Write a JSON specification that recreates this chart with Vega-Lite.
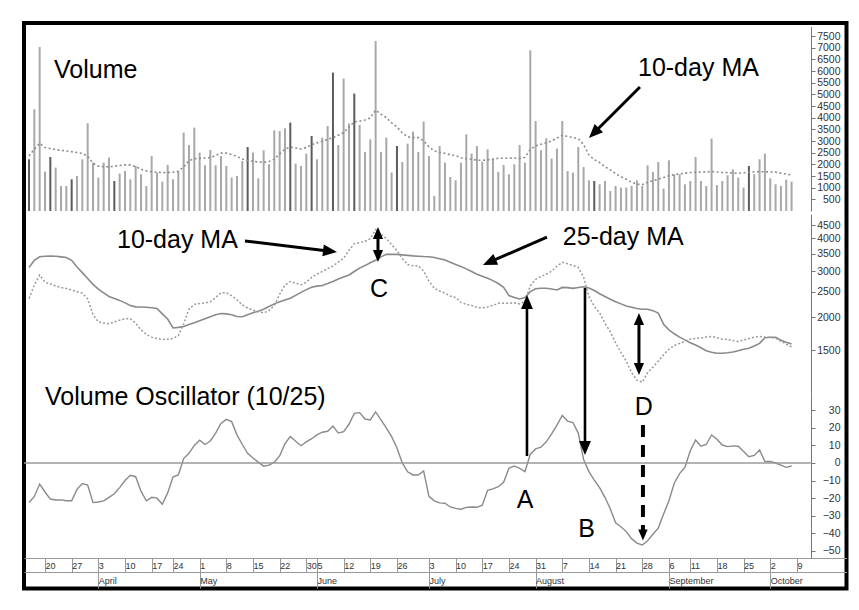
{
"$schema":"https://vega.github.io/schema/vega-lite/v6.json",
"width":822.5,"height":565.5,
"autosize":{"type":"none"},
"padding":{"left":24,"top":23,"right":12.5,"bottom":21.5},
"background":"white",
"config":{"view":{"stroke":"#000","strokeWidth":4},"font":"Liberation Sans"},
"datasets":{
"bars":[
{"k":0,"vol":2216,"ma10":2360,"ma25":3100,"osc":-22.5,"day":"down"},
{"k":1,"vol":4359,"ma10":2650,"ma25":3300,"osc":-19,"day":"up"},
{"k":2,"vol":7029,"ma10":2900,"ma25":3405,"osc":-12,"day":"up"},
{"k":3,"vol":1688,"ma10":2720,"ma25":3420,"osc":-16.5,"day":"up"},
{"k":4,"vol":2314,"ma10":2680,"ma25":3426,"osc":-20.5,"day":"down"},
{"k":5,"vol":1860,"ma10":2630,"ma25":3420,"osc":-21,"day":"up"},
{"k":6,"vol":1072,"ma10":2600,"ma25":3400,"osc":-21,"day":"up"},
{"k":7,"vol":1072,"ma10":2575,"ma25":3380,"osc":-21.5,"day":"up"},
{"k":8,"vol":1359,"ma10":2540,"ma25":3300,"osc":-21.5,"day":"down"},
{"k":9,"vol":1500,"ma10":2505,"ma25":3110,"osc":-15,"day":"up"},
{"k":10,"vol":2216,"ma10":2470,"ma25":2960,"osc":-11.7,"day":"up"},
{"k":11,"vol":3759,"ma10":2350,"ma25":2810,"osc":-12.5,"day":"up"},
{"k":12,"vol":2074,"ma10":2050,"ma25":2670,"osc":-22.5,"day":"up"},
{"k":13,"vol":1431,"ma10":1920,"ma25":2560,"osc":-22.2,"day":"up"},
{"k":14,"vol":2074,"ma10":1900,"ma25":2480,"osc":-21.5,"day":"up"},
{"k":15,"vol":2289,"ma10":1890,"ma25":2400,"osc":-19.5,"day":"up"},
{"k":16,"vol":1286,"ma10":1920,"ma25":2360,"osc":-17.5,"day":"down"},
{"k":17,"vol":1603,"ma10":1950,"ma25":2320,"osc":-14,"day":"up"},
{"k":18,"vol":1714,"ma10":1975,"ma25":2270,"osc":-10,"day":"up"},
{"k":19,"vol":1359,"ma10":1975,"ma25":2220,"osc":-7,"day":"up"},
{"k":20,"vol":1929,"ma10":1900,"ma25":2192,"osc":-7.8,"day":"up"},
{"k":21,"vol":1573,"ma10":1790,"ma25":2188,"osc":-16,"day":"up"},
{"k":22,"vol":1072,"ma10":1720,"ma25":2183,"osc":-21.5,"day":"up"},
{"k":23,"vol":2357,"ma10":1680,"ma25":2175,"osc":-19.5,"day":"up"},
{"k":24,"vol":1646,"ma10":1660,"ma25":2160,"osc":-20,"day":"up"},
{"k":25,"vol":1260,"ma10":1645,"ma25":2060,"osc":-23.5,"day":"up"},
{"k":26,"vol":1972,"ma10":1650,"ma25":1970,"osc":-17,"day":"up"},
{"k":27,"vol":1359,"ma10":1660,"ma25":1820,"osc":-8,"day":"up"},
{"k":28,"vol":1714,"ma10":1700,"ma25":1830,"osc":-6.8,"day":"up"},
{"k":29,"vol":3360,"ma10":1890,"ma25":1845,"osc":2.5,"day":"up"},
{"k":30,"vol":2829,"ma10":2150,"ma25":1875,"osc":5.5,"day":"up"},
{"k":31,"vol":3574,"ma10":2240,"ma25":1905,"osc":10,"day":"up"},
{"k":32,"vol":2503,"ma10":2255,"ma25":1940,"osc":13,"day":"up"},
{"k":33,"vol":1959,"ma10":2270,"ma25":1975,"osc":10.5,"day":"up"},
{"k":34,"vol":2614,"ma10":2290,"ma25":2010,"osc":12.5,"day":"up"},
{"k":35,"vol":1959,"ma10":2380,"ma25":2045,"osc":17,"day":"up"},
{"k":36,"vol":2357,"ma10":2480,"ma25":2068,"osc":22.5,"day":"up"},
{"k":37,"vol":1929,"ma10":2480,"ma25":2060,"osc":24.8,"day":"up"},
{"k":38,"vol":1431,"ma10":2420,"ma25":2045,"osc":23.5,"day":"up"},
{"k":39,"vol":1500,"ma10":2330,"ma25":2015,"osc":16,"day":"up"},
{"k":40,"vol":2143,"ma10":2230,"ma25":2010,"osc":10.5,"day":"up"},
{"k":41,"vol":2743,"ma10":2170,"ma25":2045,"osc":5.5,"day":"down"},
{"k":42,"vol":2503,"ma10":2130,"ma25":2080,"osc":2.8,"day":"up"},
{"k":43,"vol":1401,"ma10":2100,"ma25":2110,"osc":0.5,"day":"up"},
{"k":44,"vol":2601,"ma10":2080,"ma25":2145,"osc":-1.8,"day":"up"},
{"k":45,"vol":2001,"ma10":2120,"ma25":2200,"osc":-1.2,"day":"up"},
{"k":46,"vol":3459,"ma10":2220,"ma25":2250,"osc":0.5,"day":"up"},
{"k":47,"vol":3429,"ma10":2450,"ma25":2290,"osc":4,"day":"up"},
{"k":48,"vol":3544,"ma10":2650,"ma25":2330,"osc":11,"day":"up"},
{"k":49,"vol":3789,"ma10":2740,"ma25":2365,"osc":15,"day":"down"},
{"k":50,"vol":2031,"ma10":2700,"ma25":2425,"osc":12.3,"day":"up"},
{"k":51,"vol":1929,"ma10":2660,"ma25":2490,"osc":9.8,"day":"up"},
{"k":52,"vol":2460,"ma10":2720,"ma25":2550,"osc":12,"day":"up"},
{"k":53,"vol":3215,"ma10":2840,"ma25":2605,"osc":13.8,"day":"down"},
{"k":54,"vol":2216,"ma10":2920,"ma25":2630,"osc":16,"day":"up"},
{"k":55,"vol":3146,"ma10":2990,"ma25":2645,"osc":17.5,"day":"up"},
{"k":56,"vol":3643,"ma10":3070,"ma25":2690,"osc":18,"day":"up"},
{"k":57,"vol":5932,"ma10":3140,"ma25":2740,"osc":21,"day":"down"},
{"k":58,"vol":2829,"ma10":3250,"ma25":2800,"osc":17,"day":"up"},
{"k":59,"vol":5675,"ma10":3360,"ma25":2850,"osc":17.8,"day":"up"},
{"k":60,"vol":3746,"ma10":3600,"ma25":2900,"osc":22,"day":"up"},
{"k":61,"vol":5032,"ma10":3820,"ma25":2990,"osc":28.2,"day":"down"},
{"k":62,"vol":3686,"ma10":3850,"ma25":3080,"osc":28.6,"day":"up"},
{"k":63,"vol":2529,"ma10":3900,"ma25":3150,"osc":25,"day":"up"},
{"k":64,"vol":3073,"ma10":3990,"ma25":3230,"osc":24.5,"day":"up"},
{"k":65,"vol":7286,"ma10":4320,"ma25":3300,"osc":29,"day":"up"},
{"k":66,"vol":2529,"ma10":4150,"ma25":3400,"osc":24.5,"day":"up"},
{"k":67,"vol":3146,"ma10":4000,"ma25":3477,"osc":20,"day":"up"},
{"k":68,"vol":1646,"ma10":3780,"ma25":3477,"osc":15,"day":"up"},
{"k":69,"vol":2786,"ma10":3600,"ma25":3477,"osc":8.5,"day":"down"},
{"k":70,"vol":2100,"ma10":3350,"ma25":3460,"osc":0,"day":"up"},
{"k":71,"vol":2889,"ma10":3180,"ma25":3445,"osc":-5,"day":"up"},
{"k":72,"vol":3403,"ma10":3145,"ma25":3430,"osc":-6.8,"day":"up"},
{"k":73,"vol":2529,"ma10":3144,"ma25":3420,"osc":-6.8,"day":"up"},
{"k":74,"vol":3832,"ma10":3000,"ma25":3410,"osc":-4.5,"day":"up"},
{"k":75,"vol":2357,"ma10":2750,"ma25":3405,"osc":-19,"day":"up"},
{"k":76,"vol":643,"ma10":2580,"ma25":3380,"osc":-21.5,"day":"up"},
{"k":77,"vol":2786,"ma10":2520,"ma25":3345,"osc":-22.7,"day":"up"},
{"k":78,"vol":2074,"ma10":2470,"ma25":3310,"osc":-22.9,"day":"up"},
{"k":79,"vol":1457,"ma10":2410,"ma25":3245,"osc":-25,"day":"up"},
{"k":80,"vol":1316,"ma10":2380,"ma25":3180,"osc":-25.8,"day":"up"},
{"k":81,"vol":2074,"ma10":2280,"ma25":3125,"osc":-26.3,"day":"up"},
{"k":82,"vol":3287,"ma10":2240,"ma25":3060,"osc":-25.2,"day":"up"},
{"k":83,"vol":2460,"ma10":2220,"ma25":2990,"osc":-25,"day":"up"},
{"k":84,"vol":2786,"ma10":2180,"ma25":2920,"osc":-25.2,"day":"up"},
{"k":85,"vol":2117,"ma10":2170,"ma25":2870,"osc":-24,"day":"up"},
{"k":86,"vol":2644,"ma10":2190,"ma25":2820,"osc":-15.5,"day":"up"},
{"k":87,"vol":2246,"ma10":2220,"ma25":2760,"osc":-14.7,"day":"up"},
{"k":88,"vol":1672,"ma10":2260,"ma25":2690,"osc":-13.5,"day":"up"},
{"k":89,"vol":1972,"ma10":2260,"ma25":2600,"osc":-11,"day":"up"},
{"k":90,"vol":1573,"ma10":2260,"ma25":2420,"osc":-3,"day":"up"},
{"k":91,"vol":2001,"ma10":2270,"ma25":2380,"osc":-1.7,"day":"up"},
{"k":92,"vol":2829,"ma10":2250,"ma25":2350,"osc":-3,"day":"up"},
{"k":93,"vol":2074,"ma10":2300,"ma25":2380,"osc":-4.9,"day":"up"},
{"k":94,"vol":6888,"ma10":2640,"ma25":2505,"osc":5,"day":"up"},
{"k":95,"vol":3857,"ma10":2790,"ma25":2570,"osc":8,"day":"up"},
{"k":96,"vol":2601,"ma10":2860,"ma25":2580,"osc":9,"day":"up"},
{"k":97,"vol":3116,"ma10":2920,"ma25":2580,"osc":12,"day":"up"},
{"k":98,"vol":2246,"ma10":3000,"ma25":2565,"osc":16.5,"day":"up"},
{"k":99,"vol":2674,"ma10":3130,"ma25":2541,"osc":21.5,"day":"up"},
{"k":100,"vol":3857,"ma10":3240,"ma25":2600,"osc":27,"day":"up"},
{"k":101,"vol":1714,"ma10":3200,"ma25":2595,"osc":23.8,"day":"up"},
{"k":102,"vol":1646,"ma10":3150,"ma25":2579,"osc":23,"day":"up"},
{"k":103,"vol":2743,"ma10":3100,"ma25":2600,"osc":17,"day":"up"},
{"k":104,"vol":1886,"ma10":2850,"ma25":2616,"osc":2,"day":"up"},
{"k":105,"vol":1316,"ma10":2400,"ma25":2585,"osc":-4.9,"day":"up"},
{"k":106,"vol":1286,"ma10":2200,"ma25":2530,"osc":-9.7,"day":"down"},
{"k":107,"vol":1144,"ma10":2080,"ma25":2460,"osc":-14,"day":"up"},
{"k":108,"vol":1286,"ma10":1900,"ma25":2400,"osc":-19.5,"day":"up"},
{"k":109,"vol":857,"ma10":1760,"ma25":2345,"osc":-26,"day":"up"},
{"k":110,"vol":1072,"ma10":1600,"ma25":2293,"osc":-34,"day":"up"},
{"k":111,"vol":1003,"ma10":1470,"ma25":2250,"osc":-36.2,"day":"up"},
{"k":112,"vol":1003,"ma10":1360,"ma25":2210,"osc":-39,"day":"up"},
{"k":113,"vol":1072,"ma10":1230,"ma25":2185,"osc":-43,"day":"up"},
{"k":114,"vol":1316,"ma10":1150,"ma25":2160,"osc":-45.5,"day":"up"},
{"k":115,"vol":1072,"ma10":1130,"ma25":2145,"osc":-46.6,"day":"up"},
{"k":116,"vol":1959,"ma10":1230,"ma25":2145,"osc":-44.2,"day":"up"},
{"k":117,"vol":1672,"ma10":1290,"ma25":2120,"osc":-40.5,"day":"up"},
{"k":118,"vol":2100,"ma10":1360,"ma25":2075,"osc":-37,"day":"up"},
{"k":119,"vol":960,"ma10":1440,"ma25":1880,"osc":-29,"day":"up"},
{"k":120,"vol":2173,"ma10":1510,"ma25":1790,"osc":-21.5,"day":"up"},
{"k":121,"vol":1573,"ma10":1560,"ma25":1730,"osc":-11.5,"day":"up"},
{"k":122,"vol":1573,"ma10":1590,"ma25":1680,"osc":-6,"day":"up"},
{"k":123,"vol":1144,"ma10":1620,"ma25":1640,"osc":-2.5,"day":"up"},
{"k":124,"vol":1286,"ma10":1650,"ma25":1600,"osc":7,"day":"up"},
{"k":125,"vol":2314,"ma10":1660,"ma25":1567,"osc":13,"day":"up"},
{"k":126,"vol":1286,"ma10":1665,"ma25":1530,"osc":9.5,"day":"up"},
{"k":127,"vol":1072,"ma10":1680,"ma25":1490,"osc":10.5,"day":"up"},
{"k":128,"vol":3103,"ma10":1690,"ma25":1470,"osc":15.9,"day":"up"},
{"k":129,"vol":1114,"ma10":1670,"ma25":1457,"osc":13.5,"day":"up"},
{"k":130,"vol":1286,"ma10":1650,"ma25":1457,"osc":10.2,"day":"up"},
{"k":131,"vol":1530,"ma10":1645,"ma25":1465,"osc":9.3,"day":"up"},
{"k":132,"vol":1787,"ma10":1630,"ma25":1475,"osc":9.7,"day":"up"},
{"k":133,"vol":1431,"ma10":1615,"ma25":1490,"osc":9.5,"day":"up"},
{"k":134,"vol":1003,"ma10":1640,"ma25":1510,"osc":6.5,"day":"up"},
{"k":135,"vol":1929,"ma10":1660,"ma25":1522,"osc":3.6,"day":"down"},
{"k":136,"vol":1573,"ma10":1680,"ma25":1555,"osc":4.3,"day":"up"},
{"k":137,"vol":2216,"ma10":1690,"ma25":1590,"osc":7.4,"day":"up"},
{"k":138,"vol":2460,"ma10":1680,"ma25":1670,"osc":0.8,"day":"up"},
{"k":139,"vol":1401,"ma10":1675,"ma25":1677,"osc":0.8,"day":"up"},
{"k":140,"vol":1144,"ma10":1665,"ma25":1677,"osc":0,"day":"up"},
{"k":141,"vol":1072,"ma10":1620,"ma25":1635,"osc":-1.2,"day":"up"},
{"k":142,"vol":1346,"ma10":1580,"ma25":1605,"osc":-2.5,"day":"up"},
{"k":143,"vol":1260,"ma10":1540,"ma25":1580,"osc":-1.7,"day":"up"}
],
"volNotes":[{"k":4.69,"v":5700,"label":"Volume"},{"k":114.2,"v":5786,"label":"10-day MA"}],
"volRules":[{"k":114.57,"v":5315,"k2":105.93,"v2":3341}],
"volHeads":[{"k":105.93,"v":3341,"dir":"downleft"}],
"maNotes":[{"k":16.5,"v":3676,"label":"10-day MA"},{"k":100.1,"v":3774,"label":"25-day MA"},{"k":63.94,"v":2390,"label":"C"}],
"maRules":[{"k":40.5,"v":3909,"k2":56.45,"v2":3575},{"k":97.13,"v":4049,"k2":86.33,"v2":3245},{"k":65.44,"v":4194,"k2":65.44,"v2":3427},{"k":114.38,"v":1970,"k2":114.38,"v2":1269}],
"maHeads":[{"k":56.45,"v":3575,"dir":"right","kind":"pointer"},{"k":86.33,"v":3245,"dir":"leftdown","kind":"pointer"},{"k":65.44,"v":4194,"dir":"up","kind":"gap"},{"k":65.44,"v":3427,"dir":"down","kind":"gap"},{"k":114.38,"v":1970,"dir":"up","kind":"gap"},{"k":114.38,"v":1269,"dir":"down","kind":"gap"}],
"oscNotes":[{"k":3.0,"o":32.95,"label":"Volume Oscillator (10/25)"},{"k":91.45,"o":-25.57,"label":"A"},{"k":103.0,"o":-42.05,"label":"B"},{"k":113.6,"o":27.27,"label":"D"}],
"oscRefs":[{"k":-0.9375,"k2":146.6,"o":0}],
"oscRules":[{"k":93.38,"o":3.98,"k2":93.38,"o2":91.48,"kind":"signal"},{"k":104.26,"o":99.43,"k2":104.26,"o2":8.52,"kind":"signal"},{"k":115.13,"o":21.59,"k2":115.13,"o2":-41.0,"kind":"projection"}],
"oscHeads":[{"k":93.38,"o":91.48,"dir":"up","kind":"pointer"},{"k":104.26,"o":8.52,"dir":"down","kind":"pointer"},{"k":115.13,"o":-41.0,"dir":"down","kind":"projection"}]
},
"layer":[
 {"data":{"name":"bars"},"mark":{"type":"rule","strokeWidth":2},
  "encoding":{
   "x":{"field":"k","type":"quantitative","scale":{"domain":[-0.9375,153.3],"nice":false,"zero":false},
     "axis":{"orient":"bottom","offset":-16.5,"values":[13,32,54,75,95,120,139],"labelExpr":"['April','May','June','July','August','September','October'][indexof([13,32,54,75,95,120,139], datum.value)]","tickSize":16,"labelPadding":-8,"labelBaseline":"middle","labelAlign":"left","labelDx":2,"labelFontSize":9,"labelFont":"Liberation Sans","labelColor":"#333","domainColor":"#999","tickColor":"#999","labelOverlap":false,"labelFlush":false,"grid":false,"title":null}},
   "y":{"field":"vol","type":"quantitative","scale":{"domain":[0,7900],"range":[188,3.67],"nice":false,"zero":false},
     "axis":{"orient":"right","offset":-35.5,"values":[500,1000,1500,2000,2500,3000,3500,4000,4500,5000,5500,6000,6500,7000,7500],"format":"d","labelAlign":"right","labelBaseline":"middle","labelPadding":25,"tickSize":4,"labelFontSize":10.5,"labelFont":"Liberation Sans","labelColor":"#333","domainColor":"#777","tickColor":"#777","labelOverlap":false,"grid":false,"title":null}},
   "y2":{"datum":0},
   "color":{"field":"day","type":"nominal","scale":{"domain":["up","down"],"range":["#a8a8a8","#5c5c5c"]},"legend":null}}},
 {"data":{"name":"bars"},"mark":{"type":"line","color":"#8c8c8c","strokeWidth":1.6,"strokeDash":[2,2.5]},
  "encoding":{"x":{"field":"k","type":"quantitative","scale":{"domain":[-0.9375,153.3],"nice":false,"zero":false},"axis":null},
   "y":{"field":"ma10","type":"quantitative","scale":{"domain":[0,7900],"range":[188,3.67],"nice":false,"zero":false},"axis":null}}},
 {"data":{"name":"volNotes"},"mark":{"type":"text","align":"left","baseline":"alphabetic","fontSize":25,"font":"Liberation Sans","color":"#000"},
  "encoding":{"x":{"field":"k","type":"quantitative","scale":{"domain":[-0.9375,153.3],"nice":false,"zero":false},"axis":null},
   "y":{"field":"v","type":"quantitative","scale":{"domain":[0,7900],"range":[188,3.67],"nice":false,"zero":false},"axis":null},
   "text":{"field":"label"}}},
 {"data":{"name":"volRules"},"mark":{"type":"rule","strokeWidth":3,"color":"#000"},
  "encoding":{"x":{"field":"k","type":"quantitative","scale":{"domain":[-0.9375,153.3],"nice":false,"zero":false},"axis":null},
   "y":{"field":"v","type":"quantitative","scale":{"domain":[0,7900],"range":[188,3.67],"nice":false,"zero":false},"axis":null},
   "x2":{"field":"k2"},"y2":{"field":"v2"}}},
 {"data":{"name":"volHeads"},"mark":{"type":"point","filled":true,"color":"#000","opacity":1,"size":196,"strokeWidth":0},
  "encoding":{"x":{"field":"k","type":"quantitative","scale":{"domain":[-0.9375,153.3],"nice":false,"zero":false},"axis":null},
   "y":{"field":"v","type":"quantitative","scale":{"domain":[0,7900],"range":[188,3.67],"nice":false,"zero":false},"axis":null},
   "shape":{"field":"dir","type":"nominal","scale":{"domain":["up","down","downleft","right","leftdown"],"range":["M0,-1L0.85,1L-0.85,1Z","M0,1L0.85,-1L-0.85,-1Z","M-0.707,0.707L0.106,-1.308L1.308,-0.106Z","M0.993,0.118L-1.094,0.726L-0.892,-0.962Z","M-0.916,0.4L0.576,-1.179L1.256,0.379Z"]},"legend":null}}},
 {"data":{"name":"bars"},"mark":{"type":"line","color":"#8a8a8a","strokeWidth":1.6},
  "encoding":{"x":{"field":"k","type":"quantitative","scale":{"domain":[-0.9375,153.3],"nice":false,"zero":false},"axis":null},
   "y":{"field":"ma25","type":"quantitative","scale":{"type":"log","domain":[1028,4957],"range":[370,191],"nice":false},
     "axis":{"orient":"right","offset":-35.5,"values":[1500,2000,2500,3000,3500,4000,4500],"format":"d","labelAlign":"right","labelBaseline":"middle","labelPadding":25,"tickSize":4,"labelFontSize":10.5,"labelFont":"Liberation Sans","labelColor":"#333","domainColor":"#777","tickColor":"#777","labelOverlap":false,"grid":false,"title":null}}}},
 {"data":{"name":"bars"},"mark":{"type":"line","color":"#9a9a9a","strokeWidth":1.5,"strokeDash":[2,2]},
  "encoding":{"x":{"field":"k","type":"quantitative","scale":{"domain":[-0.9375,153.3],"nice":false,"zero":false},"axis":null},
   "y":{"field":"ma10","type":"quantitative","scale":{"type":"log","domain":[1028,4957],"range":[370,191],"nice":false},"axis":null}}},
 {"data":{"name":"maNotes"},"mark":{"type":"text","align":"left","baseline":"alphabetic","fontSize":25,"font":"Liberation Sans","color":"#000"},
  "encoding":{"x":{"field":"k","type":"quantitative","scale":{"domain":[-0.9375,153.3],"nice":false,"zero":false},"axis":null},
   "y":{"field":"v","type":"quantitative","scale":{"type":"log","domain":[1028,4957],"range":[370,191],"nice":false},"axis":null},
   "text":{"field":"label"}}},
 {"data":{"name":"maRules"},"mark":{"type":"rule","strokeWidth":3,"color":"#000"},
  "encoding":{"x":{"field":"k","type":"quantitative","scale":{"domain":[-0.9375,153.3],"nice":false,"zero":false},"axis":null},
   "y":{"field":"v","type":"quantitative","scale":{"type":"log","domain":[1028,4957],"range":[370,191],"nice":false},"axis":null},
   "x2":{"field":"k2"},"y2":{"field":"v2"}}},
 {"data":{"name":"maHeads"},"transform":[{"filter":"datum.kind === 'pointer'"}],"mark":{"type":"point","filled":true,"color":"#000","opacity":1,"size":196,"strokeWidth":0},
  "encoding":{"x":{"field":"k","type":"quantitative","scale":{"domain":[-0.9375,153.3],"nice":false,"zero":false},"axis":null},
   "y":{"field":"v","type":"quantitative","scale":{"type":"log","domain":[1028,4957],"range":[370,191],"nice":false},"axis":null},
   "shape":{"field":"dir","type":"nominal","scale":{"domain":["up","down","downleft","right","leftdown"],"range":["M0,-1L0.85,1L-0.85,1Z","M0,1L0.85,-1L-0.85,-1Z","M-0.707,0.707L0.106,-1.308L1.308,-0.106Z","M0.993,0.118L-1.094,0.726L-0.892,-0.962Z","M-0.916,0.4L0.576,-1.179L1.256,0.379Z"]},"legend":null}}},
 {"data":{"name":"maHeads"},"transform":[{"filter":"datum.kind === 'gap'"}],"mark":{"type":"point","filled":true,"color":"#000","opacity":1,"size":144,"strokeWidth":0},
  "encoding":{"x":{"field":"k","type":"quantitative","scale":{"domain":[-0.9375,153.3],"nice":false,"zero":false},"axis":null},
   "y":{"field":"v","type":"quantitative","scale":{"type":"log","domain":[1028,4957],"range":[370,191],"nice":false},"axis":null},
   "shape":{"field":"dir","type":"nominal","scale":{"domain":["up","down","downleft","right","leftdown"],"range":["M0,-1L0.85,1L-0.85,1Z","M0,1L0.85,-1L-0.85,-1Z","M-0.707,0.707L0.106,-1.308L1.308,-0.106Z","M0.993,0.118L-1.094,0.726L-0.892,-0.962Z","M-0.916,0.4L0.576,-1.179L1.256,0.379Z"]},"legend":null}}},
 {"data":{"name":"bars"},"mark":{"type":"line","color":"#8a8a8a","strokeWidth":1.4},
  "encoding":{"x":{"field":"k","type":"quantitative","scale":{"domain":[-0.9375,153.3],"nice":false,"zero":false},
     "axis":{"orient":"bottom","offset":-30.5,"values":[3,8,13,18,23,27,32,37,42,47,52,54,59,64,69,75,80,85,90,95,100,105,110,115,120,124,129,134,139,144],"labelExpr":"['20','27','3','10','17','24','1','8','15','22','30','5','12','19','26','3','10','17','24','31','7','14','21','28','6','11','18','25','2','9'][indexof([3,8,13,18,23,27,32,37,42,47,52,54,59,64,69,75,80,85,90,95,100,105,110,115,120,124,129,134,139,144], datum.value)]","tickSize":14,"labelPadding":-7,"labelBaseline":"middle","labelAlign":"left","labelDx":2,"labelFontSize":9,"labelFont":"Liberation Sans","labelColor":"#333","domainColor":"#999","tickColor":"#999","labelOverlap":false,"labelFlush":false,"grid":false,"title":null}},
   "y":{"field":"osc","type":"quantitative","scale":{"domain":[-54,39.77],"range":[535,370],"nice":false,"zero":false},
     "axis":{"orient":"right","offset":-35.5,"values":[-50,-40,-30,-20,-10,0,10,20,30],"format":"d","labelAlign":"right","labelBaseline":"middle","labelPadding":25,"tickSize":4,"labelFontSize":10.5,"labelFont":"Liberation Sans","labelColor":"#333","domainColor":"#777","tickColor":"#777","labelOverlap":false,"grid":false,"title":null}}}},
 {"data":{"name":"oscRefs"},"mark":{"type":"rule","color":"#9a9a9a","strokeWidth":1.5},
  "encoding":{"x":{"field":"k","type":"quantitative","scale":{"domain":[-0.9375,153.3],"nice":false,"zero":false},"axis":null},"x2":{"field":"k2"},
   "y":{"field":"o","type":"quantitative","scale":{"domain":[-54,39.77],"range":[535,370],"nice":false,"zero":false},"axis":null}}},
 {"data":{"name":"oscNotes"},"mark":{"type":"text","align":"left","baseline":"alphabetic","fontSize":25,"font":"Liberation Sans","color":"#000"},
  "encoding":{"x":{"field":"k","type":"quantitative","scale":{"domain":[-0.9375,153.3],"nice":false,"zero":false},"axis":null},
   "y":{"field":"o","type":"quantitative","scale":{"domain":[-54,39.77],"range":[535,370],"nice":false,"zero":false},"axis":null},
   "text":{"field":"label"}}},
 {"data":{"name":"oscRules"},"transform":[{"filter":"datum.kind === 'signal'"}],"mark":{"type":"rule","strokeWidth":2.6,"color":"#000"},
  "encoding":{"x":{"field":"k","type":"quantitative","scale":{"domain":[-0.9375,153.3],"nice":false,"zero":false},"axis":null},
   "y":{"field":"o","type":"quantitative","scale":{"domain":[-54,39.77],"range":[535,370],"nice":false,"zero":false},"axis":null},
   "x2":{"field":"k2"},"y2":{"field":"o2"}}},
 {"data":{"name":"oscRules"},"transform":[{"filter":"datum.kind === 'projection'"}],"mark":{"type":"rule","strokeWidth":4,"color":"#000","strokeDash":[12,8]},
  "encoding":{"x":{"field":"k","type":"quantitative","scale":{"domain":[-0.9375,153.3],"nice":false,"zero":false},"axis":null},
   "y":{"field":"o","type":"quantitative","scale":{"domain":[-54,39.77],"range":[535,370],"nice":false,"zero":false},"axis":null},
   "x2":{"field":"k2"},"y2":{"field":"o2"}}},
 {"data":{"name":"oscHeads"},"transform":[{"filter":"datum.kind === 'pointer'"}],"mark":{"type":"point","filled":true,"color":"#000","opacity":1,"size":196,"strokeWidth":0},
  "encoding":{"x":{"field":"k","type":"quantitative","scale":{"domain":[-0.9375,153.3],"nice":false,"zero":false},"axis":null},
   "y":{"field":"o","type":"quantitative","scale":{"domain":[-54,39.77],"range":[535,370],"nice":false,"zero":false},"axis":null},
   "shape":{"field":"dir","type":"nominal","scale":{"domain":["up","down","downleft","right","leftdown"],"range":["M0,-1L0.85,1L-0.85,1Z","M0,1L0.85,-1L-0.85,-1Z","M-0.707,0.707L0.106,-1.308L1.308,-0.106Z","M0.993,0.118L-1.094,0.726L-0.892,-0.962Z","M-0.916,0.4L0.576,-1.179L1.256,0.379Z"]},"legend":null}}},
 {"data":{"name":"oscHeads"},"transform":[{"filter":"datum.kind === 'projection'"}],"mark":{"type":"point","filled":true,"color":"#000","opacity":1,"size":121,"strokeWidth":0},
  "encoding":{"x":{"field":"k","type":"quantitative","scale":{"domain":[-0.9375,153.3],"nice":false,"zero":false},"axis":null},
   "y":{"field":"o","type":"quantitative","scale":{"domain":[-54,39.77],"range":[535,370],"nice":false,"zero":false},"axis":null},
   "shape":{"field":"dir","type":"nominal","scale":{"domain":["up","down","downleft","right","leftdown"],"range":["M0,-1L0.85,1L-0.85,1Z","M0,1L0.85,-1L-0.85,-1Z","M-0.707,0.707L0.106,-1.308L1.308,-0.106Z","M0.993,0.118L-1.094,0.726L-0.892,-0.962Z","M-0.916,0.4L0.576,-1.179L1.256,0.379Z"]},"legend":null}}}
],
"resolve":{"scale":{"y":"independent"},"axis":{"y":"independent","x":"independent"}}
}
